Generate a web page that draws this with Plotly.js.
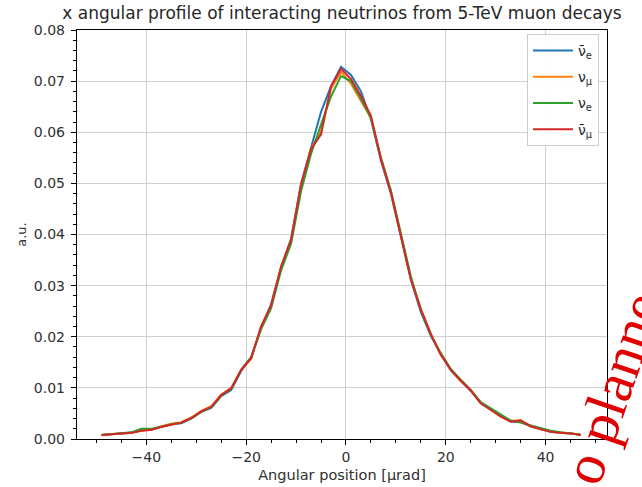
<!DOCTYPE html>
<html><head><meta charset="utf-8">
<script src="https://cdn.plot.ly/plotly-3.0.1.min.js"></script>
<style>html,body{margin:0;padding:0;background:#fff}#chart{width:642px;height:487px}</style>
</head><body><div id="chart"></div>
<script>
// Angular position bin centres [µrad]
const angle = [-49,-47,-45,-43,-41,-39,-37,-35,-33,-31,-29,-27,-25,-23,-21,-19,-17,-15,-13,-11,-9,-7,-5,-3,-1,
               1,3,5,7,9,11,13,15,17,19,21,23,25,27,29,31,33,35,37,39,41,43,45,47];
// nu_e bar
const nuebar = [0.0008,0.0010,0.0011,0.0012,0.0017,0.0018,0.0024,0.0029,0.0031,0.0040,0.0053,0.0061,0.0084,0.0096,0.0133,0.0160,0.0218,0.0264,0.0335,0.0392,0.0500,0.0572,0.0640,0.0690,0.0728,
                0.0712,0.0680,0.0625,0.0545,0.0480,0.0395,0.0312,0.0248,0.0202,0.0166,0.0134,0.0114,0.0094,0.0070,0.0058,0.0045,0.0034,0.0033,0.0025,0.0019,0.0014,0.0012,0.0011,0.0008];
// nu_mu
const numu = [0.0008,0.0010,0.0011,0.0012,0.0016,0.0018,0.0025,0.0030,0.0033,0.0042,0.0055,0.0064,0.0087,0.0100,0.0136,0.0157,0.0221,0.0260,0.0336,0.0388,0.0496,0.0568,0.0602,0.0685,0.0718,
              0.0695,0.0660,0.0628,0.0550,0.0484,0.0399,0.0314,0.0255,0.0206,0.0165,0.0136,0.0113,0.0096,0.0071,0.0058,0.0044,0.0035,0.0037,0.0025,0.0019,0.0014,0.0012,0.0011,0.0008];
// nu_e
const nue = [0.0008,0.0010,0.0011,0.0013,0.0020,0.0020,0.0024,0.0029,0.0032,0.0041,0.0053,0.0062,0.0085,0.0098,0.0136,0.0160,0.0215,0.0256,0.0330,0.0382,0.0485,0.0558,0.0615,0.0670,0.0710,
             0.0700,0.0665,0.0628,0.0550,0.0486,0.0402,0.0318,0.0252,0.0204,0.0168,0.0137,0.0116,0.0096,0.0072,0.0060,0.0047,0.0036,0.0032,0.0027,0.0022,0.0016,0.0013,0.0011,0.0009];
// nu_mu bar
const numubar = [0.0008,0.0010,0.0011,0.0012,0.0016,0.0018,0.0024,0.0028,0.0032,0.0041,0.0054,0.0063,0.0086,0.0099,0.0135,0.0158,0.0220,0.0262,0.0338,0.0390,0.0498,0.0567,0.0596,0.0690,0.0724,
                 0.0704,0.0671,0.0632,0.0547,0.0482,0.0397,0.0312,0.0253,0.0205,0.0165,0.0135,0.0114,0.0095,0.0070,0.0057,0.0044,0.0034,0.0036,0.0025,0.0019,0.0014,0.0012,0.0011,0.0008];

const names = ['ν̄<sub>e</sub>','ν<sub>μ</sub>','ν<sub>e</sub>','ν̄<sub>μ</sub>'];
const colors = ['#1f77b4','#ff7f0e','#2ca02c','#d62728'];
const series = [nuebar, numu, nue, numubar];

const font = 'DejaVu Sans, sans-serif';
const traces = series.map((s,i)=>({
  x: angle, y: s, type:'scatter', mode:'lines', name: names[i],
  legendgroup: 'g'+i,
  line:{color:colors[i], width:2}
}));

const axisCommon = {
  showline:true, linecolor:'#000', linewidth:1.2, mirror:true,
  ticks:'outside', ticklen:5, tickwidth:1, tickcolor:'#000',
  showgrid:true, gridcolor:'#cfcfcf', gridwidth:1, zeroline:false,
  tickfont:{family:font, size:14, color:'#303030'}
};

const layout = {
  width:642, height:487,
  margin:{l:77, r:35, t:30, b:48},
  paper_bgcolor:'#fff', plot_bgcolor:'#fff',
  title:{text:'x angular profile of interacting neutrinos from 5-TeV muon decays',
         font:{family:font, size:17, color:'#262626'},
         x:0.5, xref:'paper', xanchor:'center', y:1-13/487, yref:'container', yanchor:'middle'},
  xaxis:Object.assign({}, axisCommon, {
    range:[-53.9, 52.3], dtick:20, tick0:0,
    minor:{dtick:5, tick0:0, ticks:'outside', ticklen:3, tickcolor:'#000', showgrid:false},
    title:{text:'Angular position [μrad]', font:{family:font, size:14.5, color:'#303030'}, standoff:5}
  }),
  yaxis:Object.assign({}, axisCommon, {
    range:[0, 0.08], dtick:0.01, tick0:0, tickformat:'.2f', ticklabelstandoff:3,
    minor:{dtick:0.002, tick0:0, ticks:'outside', ticklen:3, tickcolor:'#000', showgrid:false},
    title:{text:'a.u.', font:{family:font, size:13, color:'#303030'}, standoff:4}
  }),
  legend:{x:(527-77)/530, y:(439-34)/409, xanchor:'left', yanchor:'top',
          bgcolor:'rgba(255,255,255,0.9)', bordercolor:'#cccccc', borderwidth:1,
          font:{family:font, size:14, color:'#262626'}, itemwidth:40, tracegroupgap:5},
  showlegend:true,
  annotations:[{
    text:'o planne', xref:'paper', yref:'paper', x:(612-77)/530, y:(439-388)/409,
    showarrow:false, textangle:-71, xanchor:'center', yanchor:'middle',
    font:{family:'Liberation Serif, DejaVu Serif, serif', size:58, color:'#e00000'}
  }]
};

Plotly.newPlot('chart', traces, layout, {displayModeBar:false, staticPlot:true});
</script>
</body></html>
